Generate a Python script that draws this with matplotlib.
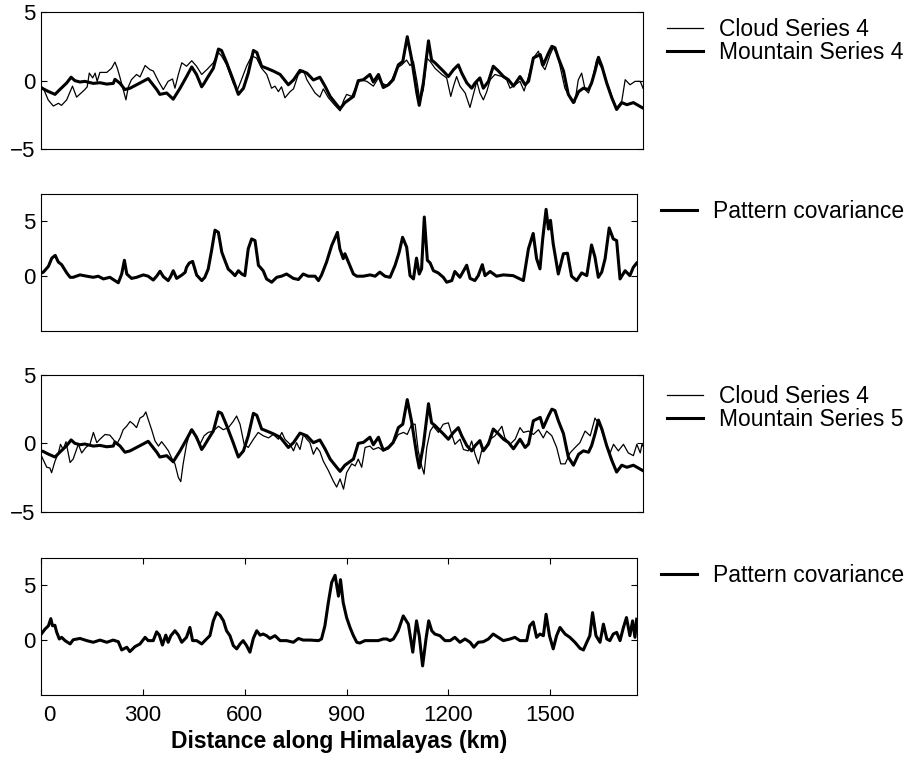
import matplotlib
matplotlib.use('Agg')
import matplotlib.pyplot as plt
from matplotlib.transforms import ScaledTranslation

plt.rcParams['font.family'] = ['Liberation Sans', 'DejaVu Sans']

# Dados: (distancia em km, valor) ---------------------------------------------

# Serie de montanha (linha grossa, igual nos paineis 1 e 3)
mountain = [
    (0, -0.55), (6, -0.6), (20, -0.78), (40, -1.0), (54, -0.65), (74, -0.17),
    (87, 0.25), (98, 0.0), (113, -0.1), (127, -0.05), (152, -0.2), (171, -0.15),
    (191, -0.25), (210, -0.2), (215, 0.1), (230, -0.2), (244, -0.65), (259, -0.55),
    (288, -0.17), (312, 0.15), (337, -0.65), (346, -1.0), (366, -0.9), (385, -1.35),
    (405, -0.55), (424, 0.3), (439, 1.0), (453, 0.45), (468, -0.45), (475, -0.2),
    (487, 0.3), (502, 0.9), (517, 2.3), (526, 2.2), (541, 1.3), (560, 0.05),
    (575, -1.0), (590, -0.55), (604, 0.55), (619, 2.2), (629, 2.05), (643, 1.05),
    (658, 0.9), (677, 0.7), (697, 0.45), (721, -0.3), (736, 0.05), (755, 0.75),
    (775, 0.55), (794, 0.05), (813, 0.25), (828, -0.4), (843, -1.15), (862, -1.75),
    (872, -2.05), (886, -1.6), (911, -1.15), (925, 0.0), (940, 0.07), (959, 0.45),
    (969, -0.1), (984, 0.45), (998, -0.5), (1013, -0.3), (1027, 0.07), (1042, 1.15),
    (1055, 1.4), (1068, 3.2), (1081, 1.55), (1096, -0.9), (1103, -1.8), (1115, -0.15),
    (1130, 2.9), (1139, 1.5), (1149, 1.3), (1159, 1.05), (1173, 0.7), (1188, 0.3),
    (1203, 0.8), (1217, 1.15), (1227, 0.55), (1242, -0.17), (1256, -0.55), (1266, -0.17),
    (1280, 0.2), (1290, -0.55), (1305, -0.05), (1319, 1.05), (1334, 0.7), (1349, 0.3),
    (1363, 0.07), (1378, -0.4), (1397, 0.3), (1412, -0.3), (1422, -0.05), (1436, 1.65),
    (1456, 1.9), (1465, 1.15), (1480, 2.0), (1490, 2.5), (1499, 2.4), (1509, 1.65),
    (1524, 0.7), (1538, -1.0), (1553, -1.6), (1568, -0.8), (1582, -0.55), (1597, -0.65),
    (1606, -0.17), (1616, 0.7), (1626, 1.7), (1636, 1.05), (1650, -0.17), (1665, -1.25),
    (1679, -2.1), (1694, -1.6), (1709, -1.75), (1728, -1.6), (1756, -2.0),
]

# Serie de nuvem do painel 1 (linha fina)
cloud_a = [
    (0, -0.4), (6, -0.55), (20, -1.4), (35, -1.85), (50, -1.65), (59, -1.8),
    (74, -1.4), (87, -0.65), (91, -0.4), (103, -1.2), (118, -0.85), (127, -0.65),
    (134, -0.45), (140, 0.55), (150, 0.2), (157, 0.55), (163, -0.05), (171, 0.6),
    (191, 0.6), (205, 0.9), (215, 1.35), (222, 0.9), (230, 0.2), (239, -0.65),
    (247, -1.4), (254, -0.45), (263, 0.07), (278, 0.45), (288, 0.27), (303, 1.1),
    (317, 0.8), (327, 0.7), (342, -0.05), (356, -0.65), (370, -0.05), (383, 0.12),
    (390, -0.55), (400, 0.45), (410, 1.3), (424, 1.05), (439, 1.45), (453, 1.05),
    (468, 0.45), (483, 0.8), (502, 1.3), (517, 2.05), (526, 1.8), (541, 1.15),
    (560, -0.17), (572, -0.7), (585, 0.12), (599, 1.05), (614, 1.8), (628, 1.65),
    (643, 0.9), (658, 0.45), (672, -0.55), (682, -0.4), (692, -0.8), (701, -0.45),
    (711, -1.25), (726, -0.8), (736, -0.6), (750, 0.45), (765, 0.75), (775, 0.07),
    (784, -0.3), (799, -0.9), (813, -1.2), (823, -0.6), (838, -1.25), (857, -1.8),
    (872, -2.2), (883, -1.4), (891, -1.0), (906, -1.15), (915, -0.65), (930, 0.07),
    (950, -0.05), (969, -0.4), (984, 0.2), (993, -0.17), (1008, -0.35), (1023, 0.07),
    (1037, 0.9), (1052, 1.15), (1066, 1.5), (1076, 1.1), (1086, 1.4), (1096, 0.0),
    (1105, -1.5), (1115, -0.65), (1125, 1.65), (1135, 1.4), (1149, 0.9), (1169, 0.45),
    (1183, 0.2), (1195, -1.15), (1203, -0.4), (1212, 0.3), (1222, -0.4), (1237, -0.9),
    (1251, -1.95), (1261, -1.0), (1271, -0.05), (1280, -0.9), (1290, -1.4), (1300, -0.8),
    (1310, 0.07), (1324, 0.45), (1344, 0.3), (1358, 0.07), (1368, -0.55), (1383, -0.3),
    (1397, -0.05), (1409, -0.75), (1422, 0.3), (1436, 1.65), (1451, 2.15), (1460, 1.15),
    (1470, 0.8), (1485, 1.9), (1494, 2.4), (1504, 2.0), (1513, 1.15), (1528, -0.55),
    (1543, -1.25), (1557, -1.6), (1567, 0.05), (1577, 0.55), (1587, -0.65), (1597, -0.9),
    (1606, -0.17), (1621, 1.55), (1636, 0.9), (1650, -0.05), (1665, -1.15), (1679, -2.0),
    (1694, -1.5), (1704, 0.07), (1718, -0.3), (1733, -0.05), (1748, -0.05), (1756, -0.55),
]

# Serie de nuvem do painel 3 (linha fina)
cloud_b = [
    (0, -0.9), (16, -1.75), (25, -1.8), (30, -2.15), (40, -1.3), (50, -0.7),
    (56, -0.07), (64, -0.45), (72, 0.12), (84, -1.4), (93, -1.15), (108, -0.07),
    (118, -0.7), (130, -0.3), (142, -0.07), (152, 0.8), (162, 0.05), (171, 0.3),
    (186, 0.65), (200, 0.6), (210, 0.3), (220, -0.07), (230, 0.4), (239, 1.0),
    (249, 1.25), (259, 1.6), (269, 1.4), (278, 1.15), (288, 1.85), (298, 2.0),
    (305, 2.3), (312, 1.75), (322, 1.0), (332, 0.17), (342, -0.2), (351, 0.12),
    (361, -0.2), (371, -0.55), (380, -1.05), (390, -1.5), (400, -2.5), (407, -2.8),
    (414, -1.5), (424, -0.07), (436, 1.0), (444, 0.9), (453, 0.3), (463, -0.07),
    (475, 0.55), (487, 0.8), (502, 0.9), (517, 1.25), (531, 1.0), (546, 1.15),
    (560, 1.6), (570, 2.0), (580, 1.4), (592, -0.07), (604, -0.3), (619, 0.3),
    (633, 0.8), (648, 0.55), (663, 0.4), (677, 0.65), (692, 0.3), (702, 0.8),
    (711, 0.3), (726, -0.07), (736, -0.55), (745, 0.05), (755, -0.45), (765, 0.65),
    (775, 0.3), (784, 0.05), (794, -0.8), (804, -0.3), (813, -0.6), (823, -1.3),
    (838, -2.0), (852, -2.75), (862, -3.2), (872, -2.6), (882, -3.35), (891, -2.15),
    (906, -1.5), (916, -1.65), (925, -1.15), (935, -1.75), (945, -0.3), (959, -0.2),
    (969, -0.45), (984, -0.3), (998, -0.55), (1013, -0.4), (1027, -0.02), (1042, 0.65),
    (1057, 0.8), (1068, 0.65), (1081, 1.4), (1091, 1.4), (1100, -0.55), (1110, -1.65),
    (1117, -2.25), (1125, -0.3), (1135, 0.9), (1144, 1.25), (1159, 0.8), (1173, 1.4),
    (1188, 1.5), (1198, 0.65), (1207, -0.07), (1222, 0.3), (1232, -0.45), (1246, -0.55),
    (1256, 0.17), (1266, -0.8), (1276, -1.5), (1285, -0.55), (1295, -0.3), (1310, 0.3),
    (1324, 0.55), (1344, 1.25), (1353, 0.4), (1368, -0.07), (1383, 0.3), (1397, 1.15),
    (1407, 0.8), (1422, 0.9), (1436, 0.65), (1451, 1.0), (1465, 0.4), (1475, 0.9),
    (1490, 0.55), (1504, -0.3), (1516, -1.5), (1529, -1.5), (1543, -0.7), (1558, -0.3),
    (1572, 0.05), (1587, 0.9), (1602, 0.55), (1616, 1.85), (1631, 1.25), (1645, 0.17),
    (1660, -0.7), (1670, -0.07), (1684, -0.55), (1699, -0.07), (1713, -0.7), (1728, -0.9),
    (1738, -0.07), (1748, -0.7), (1753, -0.07), (1756, -0.2),
]

# Covariancia de padrao, painel 2
cov_a = [
    (0, 0.3), (6, 0.37), (21, 0.9), (31, 1.65), (41, 1.9), (50, 1.3), (60, 1.05),
    (75, 0.3), (85, -0.1), (94, -0.1), (114, 0.12), (134, 0.0), (153, -0.1), (168, 0.0),
    (183, -0.25), (202, -0.1), (217, -0.4), (227, -0.6), (237, 0.2), (245, 1.45),
    (252, 0.2), (266, -0.2), (281, -0.1), (301, 0.12), (315, 0.0), (330, -0.35),
    (340, 0.0), (350, 0.45), (360, -0.05), (374, -0.4), (381, -0.05), (389, 0.5),
    (399, -0.2), (414, 0.1), (424, 0.35), (428, 0.8), (436, 1.2), (446, 1.35),
    (458, 0.1), (473, -0.4), (482, -0.1), (492, 0.65), (502, 2.35), (512, 4.2),
    (522, 4.0), (532, 2.2), (541, 1.45), (551, 0.65), (561, 0.37), (571, 0.05),
    (581, 0.5), (591, 0.2), (600, 0.05), (610, 2.5), (620, 3.4), (630, 3.25),
    (640, 1.0), (654, 0.5), (664, -0.25), (679, -0.55), (694, -0.1), (708, 0.0),
    (723, 0.2), (743, -0.2), (758, -0.3), (772, 0.2), (787, 0.0), (807, 0.0),
    (817, -0.4), (826, 0.1), (841, 1.3), (856, 2.8), (873, 4.0), (880, 2.5),
    (890, 1.6), (895, 2.05), (905, 1.3), (920, 0.2), (930, 0.0), (949, 0.0),
    (969, 0.12), (984, 0.0), (998, 0.37), (1013, 0.0), (1028, -0.1), (1043, 1.0),
    (1055, 2.2), (1065, 3.55), (1077, 2.65), (1087, 0.05), (1097, -0.25), (1106, 1.65),
    (1114, 0.2), (1121, 0.67), (1129, 5.4), (1138, 1.45), (1146, 1.22), (1156, 0.5),
    (1170, 0.3), (1185, -0.1), (1195, -0.55), (1210, -0.4), (1219, 0.43), (1234, -0.1),
    (1254, 1.0), (1264, -0.2), (1278, -0.4), (1288, 0.05), (1300, 1.05), (1308, 0.05),
    (1323, 0.43), (1342, 0.0), (1362, 0.12), (1391, 0.05), (1421, -0.4), (1436, 2.5),
    (1450, 3.9), (1460, 1.6), (1470, 0.67), (1478, 3.4), (1488, 6.1), (1495, 4.3),
    (1501, 5.1), (1509, 2.95), (1524, 0.2), (1539, 2.05), (1551, 2.1), (1563, 0.0),
    (1578, -0.4), (1593, 0.3), (1608, 0.05), (1622, 2.85), (1632, 1.75), (1642, -0.1),
    (1652, 0.37), (1662, 1.6), (1674, 4.4), (1686, 3.4), (1696, 3.25), (1706, -0.25),
    (1721, 0.5), (1735, 0.05), (1745, 0.8), (1755, 1.2),
]

# Covariancia de padrao, painel 4
cov_b = [
    (0, 0.55), (11, 1.0), (21, 1.3), (28, 1.95), (33, 1.3), (40, 1.35), (45, 0.75),
    (53, 0.1), (60, 0.25), (70, -0.05), (85, -0.35), (94, 0.03), (114, 0.15),
    (134, -0.05), (153, -0.2), (173, 0.0), (193, -0.2), (212, 0.0), (227, -0.15),
    (237, -0.9), (252, -0.65), (261, -1.05), (276, -0.6), (291, -0.35), (306, 0.25),
    (315, -0.05), (330, -0.05), (340, 0.75), (348, 0.45), (357, -0.45), (367, 0.45),
    (374, -0.2), (382, 0.4), (394, 0.85), (404, 0.45), (414, -0.2), (428, 0.25),
    (438, 1.15), (446, -0.05), (458, -0.05), (473, -0.35), (487, 0.1), (497, 0.4),
    (507, 1.75), (517, 2.5), (527, 2.25), (537, 1.75), (546, 0.85), (556, 0.4),
    (566, -0.5), (576, -0.8), (586, -0.35), (595, -0.05), (605, -0.5), (615, -1.1),
    (625, 0.15), (635, 0.85), (645, 0.45), (654, 0.55), (664, 0.4), (674, 0.15),
    (689, 0.4), (704, -0.05), (723, -0.05), (743, -0.2), (758, 0.15), (772, 0.0),
    (792, 0.0), (817, -0.05), (826, 0.1), (836, 1.3), (846, 3.4), (856, 5.25),
    (866, 5.9), (876, 4.0), (882, 5.5), (890, 3.4), (900, 2.05), (910, 1.15),
    (920, 0.4), (930, -0.2), (939, -0.27), (954, -0.05), (969, -0.05), (993, -0.05),
    (1008, 0.1), (1018, 0.1), (1028, -0.05), (1038, 0.1), (1052, 0.85), (1067, 2.2),
    (1082, 1.45), (1095, -1.1), (1106, 1.75), (1114, 0.4), (1124, -2.35), (1134, 0.1),
    (1142, 1.75), (1151, 0.85), (1160, 0.55), (1175, 0.4), (1190, -0.05), (1205, -0.05),
    (1219, 0.25), (1234, -0.2), (1249, 0.1), (1264, -0.2), (1275, -0.65), (1288, -0.2),
    (1303, -0.15), (1318, 0.1), (1332, 0.55), (1347, 0.25), (1362, -0.05), (1382, 0.1),
    (1396, 0.25), (1411, -0.05), (1431, -0.05), (1440, 1.3), (1450, 1.65), (1460, 0.25),
    (1470, 0.55), (1480, 0.4), (1488, 2.35), (1498, 0.4), (1509, -0.8), (1519, 0.4),
    (1529, 1.15), (1544, 0.55), (1558, 0.25), (1573, -0.2), (1588, -0.75), (1598, -0.9),
    (1608, -0.2), (1617, 0.4), (1625, 2.5), (1635, 0.4), (1647, -0.2), (1657, 1.45),
    (1667, 0.1), (1676, -0.05), (1686, 0.55), (1696, 0.7), (1706, -0.05), (1716, 1.15),
    (1725, 2.05), (1735, 0.4), (1743, 1.75), (1750, 0.25), (1755, 1.9),
]

x_max = 1756
x_ticks = [0, 300, 600, 900, 1200, 1500]

# Figura ----------------------------------------------------------------------

fig = plt.figure(figsize=(9.11, 7.57), dpi=100)
W, H = 911, 757


def painel(left, top, right, bottom, ylim, yticks):
    ax = fig.add_axes([left / W, 1 - bottom / H, (right - left) / W, (bottom - top) / H])
    ax.set_xlim(0, x_max)
    ax.set_ylim(*ylim)
    ax.set_yticks(yticks)
    ax.set_xticks([])
    ax.tick_params(direction='in', length=4, width=0.8, labelsize=16,
                   right=True, top=True, pad=4)
    for s in ax.spines.values():
        s.set_linewidth(0.8)
    return ax


def legenda(ax, x, y):
    ax.legend(loc='upper left', bbox_to_anchor=(x / W, 1 - y / H),
              bbox_transform=fig.transFigure, frameon=False, fontsize=16.5,
              handlelength=1.6, handletextpad=0.7, labelspacing=0.0,
              borderpad=0, borderaxespad=0)


thin, thick = 0.9, 2.2

ax1 = painel(41.3, 12, 643, 149.3, (-5, 5), [-5, 0, 5])
ax1.plot(*zip(*cloud_a), color='k', lw=thin, label='Cloud Series 4')
ax1.plot(*zip(*mountain), color='k', lw=thick, label='Mountain Series 4')
legenda(ax1, 666.7, 18)

ax2 = painel(41.3, 194, 637, 331, (-5, 7.5), [0, 5])
ax2.plot(*zip(*cov_a), color='k', lw=thick, label='Pattern covariance')
legenda(ax2, 660.7, 200)

ax3 = painel(41.3, 375, 643, 511.7, (-5, 5), [-5, 0, 5])
ax3.plot(*zip(*cloud_b), color='k', lw=thin, label='Cloud Series 4')
ax3.plot(*zip(*mountain), color='k', lw=thick, label='Mountain Series 5')
legenda(ax3, 666.7, 385)

ax4 = painel(41.3, 557.7, 637, 695, (-5, 7.5), [0, 5])
ax4.plot(*zip(*cov_b), color='k', lw=thick, label='Pattern covariance')
legenda(ax4, 660.7, 564)
ax4.set_xticks(x_ticks)
ax4.tick_params(axis='x', pad=7)
ax4.set_xlabel('Distance along Himalayas (km)', fontsize=16.5, fontweight='bold', labelpad=3)

# o rotulo "0" aparece deslocado para a direita no original
lbl0 = ax4.get_xticklabels()[0]
lbl0.set_transform(lbl0.get_transform() + ScaledTranslation(8 / 100, 0, fig.dpi_scale_trans))

fig.savefig('out.png', dpi=100)
